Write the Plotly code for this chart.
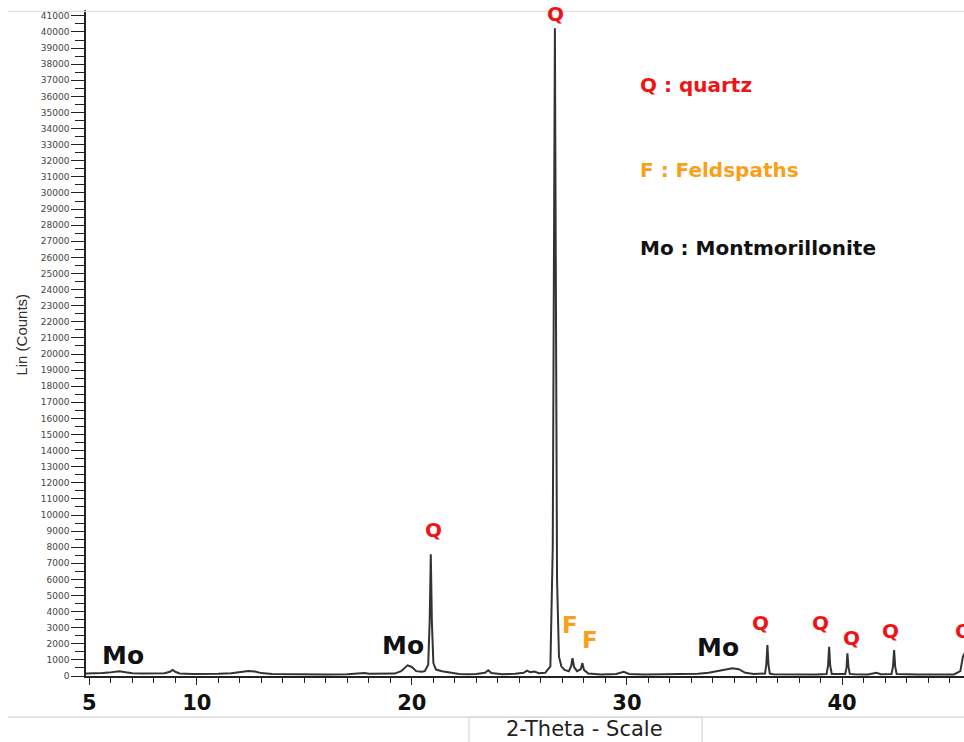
import plotly.graph_objects as go

# 2-theta (degrees) and intensity (counts)
two_theta = [
    4.85, 5.2, 5.6, 5.9, 6.2, 6.4, 6.7, 7.0, 7.5, 8.0, 8.5, 8.75, 8.88, 9.0, 9.2,
    9.8, 10.5, 11.0, 11.6, 12.0, 12.4, 12.7, 13.0, 13.5, 14.0, 15.0, 16.0, 17.0,
    17.6, 17.8, 18.0, 18.6, 19.2, 19.5, 19.8, 20.0, 20.2, 20.45, 20.6, 20.76,
    20.83, 20.88, 20.93, 21.0, 21.12, 21.4, 21.8, 22.2, 22.6, 23.0, 23.4, 23.55,
    23.7, 24.2, 24.8, 25.2, 25.35, 25.5, 25.7, 25.9, 26.2, 26.44, 26.55, 26.61,
    26.65, 26.69, 26.75, 26.84, 26.95, 27.1, 27.3, 27.4, 27.47, 27.54, 27.68,
    27.85, 27.93, 28.0, 28.2, 28.8, 29.5, 29.85, 30.1, 30.8, 31.5, 32.5, 33.3,
    33.8, 34.3, 34.9, 35.2, 35.5, 35.9, 36.3, 36.42, 36.48, 36.53, 36.58, 36.64,
    36.8, 37.2, 38.0, 38.8, 39.28, 39.35, 39.40, 39.45, 39.52, 39.9, 40.15, 40.21,
    40.25, 40.30, 40.36, 40.6, 41.2, 41.6, 41.8, 42.3, 42.37, 42.42, 42.47, 42.54,
    42.8, 43.5, 44.5, 45.2, 45.5, 45.62, 45.8, 46.0,
]
counts = [
    160, 150, 180, 210, 280, 300, 230, 170, 150, 140, 170, 260, 380, 260, 160,
    130, 120, 140, 170, 260, 310, 280, 180, 130, 120, 110, 100, 110,
    150, 190, 140, 130, 150, 300, 660, 560, 300, 260, 300, 700,
    3500, 7560, 3400, 800, 400, 300, 220, 130, 110, 120, 200, 360,
    180, 110, 140, 200, 330, 240, 280, 170, 200, 600, 8000, 28000,
    40240, 26000, 6000, 1200, 600, 380, 300, 600, 1100, 560, 300,
    420, 800, 380, 150, 100, 120, 260, 130, 100, 110, 100, 140,
    200, 320, 480, 420, 200, 130, 110, 150, 700, 1925, 700, 150,
    110, 100, 90, 100, 120, 650, 1820, 650, 130, 110, 120, 550,
    1410, 550, 130, 110, 90, 200, 110, 120, 600, 1615, 600, 120,
    100, 90, 90, 100, 300, 1200, 1700, 200,
]

# y-axis ticks and x-axis labelled ticks
y_ticks = list(range(0, 41001, 1000))
x_ticks = [5, 10, 20, 30, 40]

# peak labels: text, 2-theta, counts (label centre)
peak_label_text = ["Q", "Q", "Mo", "Mo", "F", "F", "Mo", "Q", "Q", "Q", "Q", "Q"]
peak_label_x = [26.70, 21.02, 6.58, 19.58, 27.35, 28.28, 34.23, 36.19, 38.98, 40.42, 42.23, 45.63]
peak_label_y = [41100, 9070, 1300, 1925, 3170, 2235, 1800, 3290, 3290, 2360, 2795, 2795]

legend_text = ["Q : quartz", "F : Feldspaths", "Mo : Montmorillonite"]

RED = "#EE1515"
ORANGE = "#F9A01B"
BLACK = "#111111"
colour_of = {"Q": RED, "F": ORANGE, "Mo": BLACK}
size_of = {"Q": 20, "F": 23, "Mo": 25}

fig = go.Figure()
fig.add_trace(go.Scatter(
    x=two_theta, y=counts, mode="lines",
    line=dict(color="#333333", width=2),
    showlegend=False, hoverinfo="skip",
))

annotations = []
for t, x, y in zip(peak_label_text, peak_label_x, peak_label_y):
    annotations.append(dict(
        x=x, y=y, xref="x", yref="y", text=t, showarrow=False,
        font=dict(family="DejaVu Sans", size=size_of[t], color=colour_of[t], weight="bold"),
        xanchor="center", yanchor="middle",
    ))

legend_y = [0.8874, 0.7598, 0.6426]
legend_col = [RED, ORANGE, BLACK]
for t, y, c in zip(legend_text, legend_y, legend_col):
    annotations.append(dict(
        x=0.6287, y=y, xref="paper", yref="paper", text=t, showarrow=False,
        font=dict(family="DejaVu Sans", size=20, color=c, weight="bold"),
        xanchor="left", yanchor="middle",
    ))

# axis titles
annotations.append(dict(
    x=0.568, y=-0.0796, xref="paper", yref="paper", text="2-Theta - Scale",
    showarrow=False, font=dict(family="DejaVu Sans", size=21, color="#222222"),
    xanchor="center", yanchor="middle",
))
annotations.append(dict(
    x=-0.0745, y=0.512, xref="paper", yref="paper", text="Lin (Counts)",
    showarrow=False, textangle=-90,
    font=dict(family="Liberation Sans", size=15, color="#333333"),
    xanchor="center", yanchor="middle",
))

shapes = [
    dict(type="line", xref="paper", yref="paper", x0=-0.089, x1=1.0, y0=-0.0616, y1=-0.0616,
         line=dict(color="#d6d6d6", width=1.2)),
    dict(type="line", xref="paper", yref="paper", x0=-0.089, x1=1.0, y0=0.998, y1=0.998,
         line=dict(color="#e2e2e2", width=1.2)),
    dict(type="rect", xref="paper", yref="paper", x0=0.4362, x1=0.7016, y0=-0.0616, y1=-0.12,
         line=dict(color="#d6d6d6", width=1.2), fillcolor="rgba(0,0,0,0)"),
]

fig.update_layout(
    width=964, height=742,
    margin=dict(l=86, r=0, t=10, b=66),
    paper_bgcolor="white", plot_bgcolor="white",
    annotations=annotations, shapes=shapes,
    xaxis=dict(
        range=[4.85, 45.67], tickmode="array", tickvals=x_ticks,
        ticktext=[str(v) for v in x_ticks],
        ticks="outside", ticklen=7, tickwidth=1.4, tickcolor="#222",
        showline=True, linecolor="#222", linewidth=1.6,
        showgrid=False, zeroline=False,
        tickfont=dict(family="DejaVu Sans", size=21, color="#111", weight="bold"),
        ticklabelstandoff=0,
        minor=dict(tickmode="linear", tick0=0, dtick=1, ticks="outside", ticklen=5,
                   tickwidth=1.2, tickcolor="#222", showgrid=False),
    ),
    yaxis=dict(
        range=[0, 41366], tickmode="array", tickvals=y_ticks,
        ticktext=[str(v) for v in y_ticks],
        ticks="outside", ticklen=13, tickwidth=1.3, tickcolor="#222",
        showline=True, linecolor="#222", linewidth=1.6,
        showgrid=False, zeroline=False,
        tickfont=dict(family="DejaVu Sans", size=9, color="#444"),
        minor=dict(tickmode="linear", tick0=500, dtick=1000, ticks="outside", ticklen=9,
                   tickwidth=1.2, tickcolor="#222", showgrid=False),
    ),
)

fig.write_html(
    "out.html",
    config={"displayModeBar": False},
    post_script="document.body.style.margin='0';document.body.style.overflow='hidden';",
)
